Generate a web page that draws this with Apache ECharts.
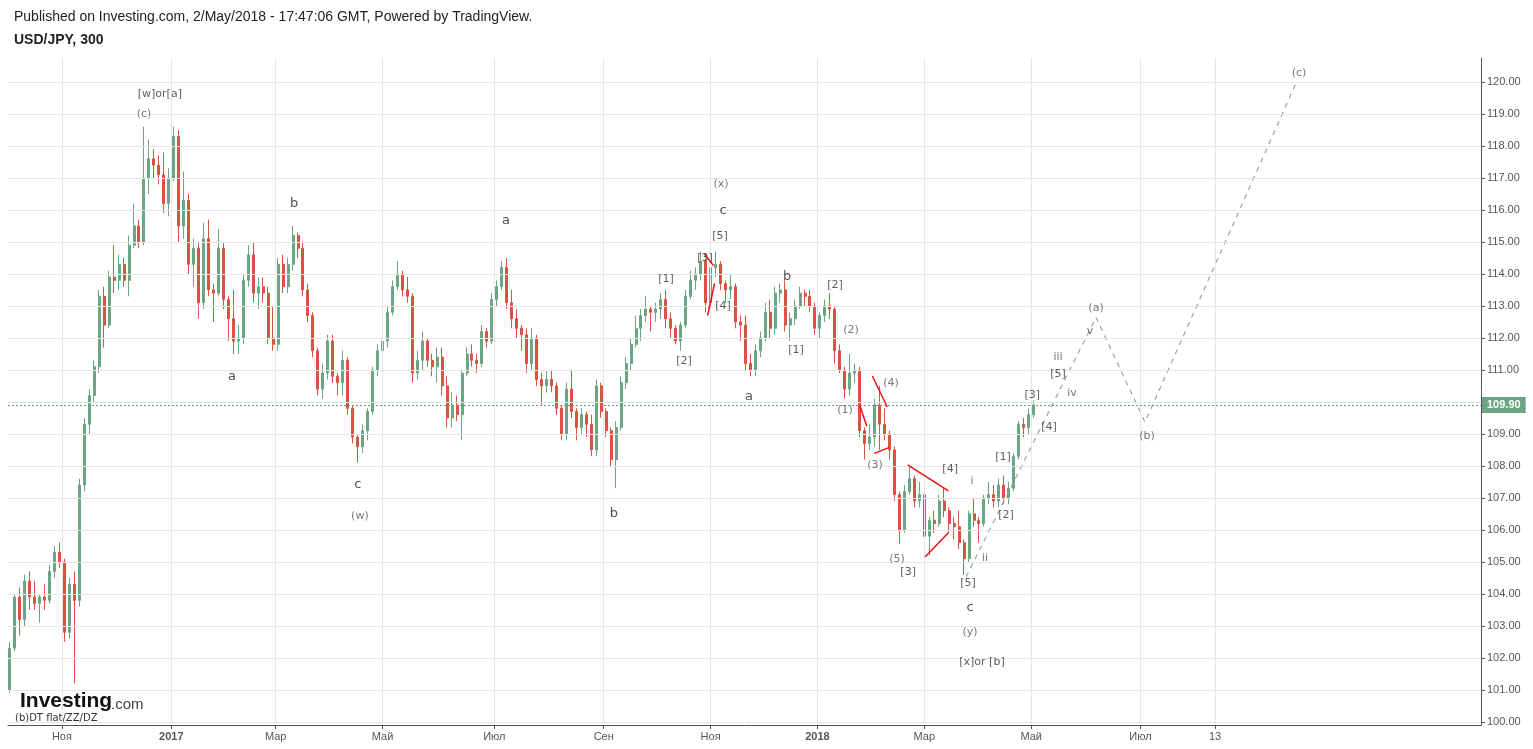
<!DOCTYPE html>
<html><head><meta charset="utf-8">
<script src="https://cdn.jsdelivr.net/npm/echarts@6/dist/echarts.min.js"></script>
<style>html,body{margin:0;padding:0;background:#fff}#c{width:1533px;height:749px}</style>
</head><body><div id="c"></div>
<script>
// x = trading-day index counted from 3 Oct 2016; each candle spans two trading days
// rows: [index, open, close, low, high]
const ohlc2016 = [
[0,101.0,102.3,100.9,102.5],[2,102.3,103.9,102.2,104.0],[4,103.9,103.2,102.7,104.2],[6,103.2,104.4,103.0,104.6],
[8,104.4,103.9,103.5,104.7],[10,103.9,103.7,103.5,104.4],[12,103.7,103.9,103.1,104.0],[14,103.9,103.8,103.5,104.3],
[16,103.8,104.7,103.7,104.9],[18,104.7,105.3,104.5,105.5],[20,105.3,105.0,104.8,105.6],[22,105.0,102.8,102.5,105.1],
[24,102.8,104.3,102.6,104.5],[26,104.3,103.8,101.2,104.7],[28,103.8,107.4,103.6,107.6],[30,107.4,109.3,107.2,109.5],
[32,109.3,110.2,109.0,110.4],[34,110.2,111.1,110.0,111.3],[36,111.1,113.3,110.9,113.5],[38,113.3,112.4,111.7,113.6],
[40,112.4,113.9,112.3,114.1],[42,113.9,113.8,113.4,114.9],[44,113.8,114.3,113.5,114.6],[46,114.3,113.8,113.6,114.5],
[48,113.8,114.9,113.3,115.2],[50,114.9,115.5,114.8,116.2],[52,115.5,115.0,114.8,115.7],[54,115.0,117.0,114.9,118.6],
[56,117.0,117.6,116.5,118.2],[58,117.6,117.4,117.0,117.9],[60,117.4,117.1,116.8,117.7],[62,117.1,116.2,115.9,117.8],
[64,116.2,117.0,115.8,117.3]
];
const ohlc2017a = [
[66,117.0,118.3,116.9,118.6],[68,118.3,115.5,115.0,118.5],[70,115.5,116.3,115.1,117.2],[72,116.3,114.3,114.0,116.5],
[74,114.3,114.8,113.6,115.1],[76,114.8,113.1,112.6,115.0],[78,113.1,115.1,112.9,115.6],[80,115.1,113.5,113.3,115.7],
[82,113.5,113.4,112.5,113.7],[84,113.4,114.8,113.3,115.4],[86,114.8,113.2,112.9,115.0],[88,113.2,112.6,111.9,113.3],
[90,112.6,111.9,111.5,113.5],[92,111.9,112.0,111.5,112.4],[94,112.0,113.8,111.8,114.0],[96,113.8,114.6,113.6,114.9],
[98,114.6,113.4,113.1,115.0],[100,113.4,113.6,112.9,113.9],[102,113.6,113.4,113.1,113.9],[104,113.4,112.0,111.8,113.6],
[106,112.0,111.8,111.6,113.0],[108,111.8,114.3,111.6,114.5],[110,114.3,113.6,113.4,114.6],[112,113.6,114.3,113.4,114.5],
[114,114.3,115.2,114.1,115.5],[116,115.2,114.8,114.5,115.3],[118,114.8,113.5,113.3,115.0],[120,113.5,112.7,112.5,113.7],
[122,112.7,111.6,111.4,112.8],[124,111.6,110.4,110.2,111.7],[126,110.4,110.9,110.1,111.2],[128,110.9,111.9,110.7,112.1],
[130,111.9,110.8,110.6,112.1],[132,110.8,110.6,110.2,110.9],[134,110.6,111.3,110.2,111.6],[136,111.3,109.8,109.6,111.4],
[138,109.8,108.9,108.7,109.9],[140,108.9,108.6,108.1,109.0],[142,108.6,109.1,108.4,109.3],[144,109.1,109.7,108.8,109.8],
[146,109.7,111.0,109.6,111.1],[148,111.0,111.6,110.8,111.8],[150,111.6,111.9,111.3,112.1],[152,111.9,112.8,111.7,113.0],
[154,112.8,113.6,112.7,113.8],[156,113.6,114.0,113.5,114.4],[158,114.0,113.5,113.3,114.1],[160,113.5,113.3,113.1,113.9],
[162,113.3,110.9,110.6,113.4],[164,110.9,111.3,110.7,111.6],[166,111.3,111.9,111.0,112.2],[168,111.9,111.3,111.1,112.0],
[170,111.3,111.1,110.8,111.5],[172,111.1,111.4,110.6,111.7],[174,111.4,110.5,110.2,111.7],[176,110.5,109.5,109.2,110.8],
[178,109.5,109.9,109.2,110.3],[180,109.9,109.6,109.4,110.2],[182,109.6,110.9,108.8,111.0],[184,110.9,111.5,110.8,111.7],
[186,111.5,111.3,111.1,111.8],[188,111.3,111.2,110.9,111.5],[190,111.2,112.2,111.1,112.4],[192,112.2,111.9,111.7,112.3],
[194,111.9,113.2,111.8,113.4]
];
const ohlc2017b = [
[196,113.2,113.6,113.0,113.8],[198,113.6,114.2,113.5,114.4],[200,114.2,113.1,112.9,114.5],[202,113.1,112.6,112.3,113.5],
[204,112.6,112.3,112.0,112.9],[206,112.3,112.1,111.6,112.4],[208,112.1,111.2,110.9,112.3],[210,111.2,112.0,111.0,112.3],
[212,112.0,110.7,110.5,112.1],[214,110.7,110.5,109.9,110.9],[216,110.5,110.7,110.3,111.0],[218,110.7,110.5,110.3,111.0],
[220,110.5,109.8,109.6,110.6],[222,109.8,109.0,108.8,109.9],[224,109.0,110.4,108.8,110.6],[226,110.4,109.7,109.5,111.0],
[228,109.7,109.2,108.8,109.8],[230,109.2,109.6,109.0,109.8],[232,109.6,109.3,108.9,109.7],[234,109.3,108.5,108.3,109.6],
[236,108.5,110.5,108.3,110.7],[238,110.5,109.7,109.5,110.6],[240,109.7,109.1,108.9,109.8],[242,109.1,108.2,108.0,109.2],
[244,108.2,109.2,107.3,109.4],[246,109.2,110.6,109.1,110.8],[248,110.6,111.2,110.4,111.4],[250,111.2,111.8,111.0,112.0],
[252,111.8,112.3,111.7,112.7],[254,112.3,112.7,111.9,112.9],[256,112.7,112.9,112.5,113.3],[258,112.9,112.8,112.2,113.0],
[260,112.8,112.9,112.5,113.1],[262,112.9,113.2,112.6,113.4],[264,113.2,112.6,112.3,113.5],[266,112.6,112.3,112.0,112.8],
[268,112.3,111.9,111.8,112.4],[270,111.9,112.4,111.6,112.5],[272,112.4,113.3,112.3,113.5],[274,113.3,113.8,113.2,114.1],
[276,113.8,114.0,113.5,114.2],[278,114.0,114.4,113.8,114.7],[280,114.4,113.1,112.8,114.5],[282,113.1,114.2,112.9,114.4],
[284,114.2,114.3,113.9,114.7],[286,114.3,113.7,113.5,114.4],[288,113.7,113.5,113.1,113.8],[290,113.5,113.6,113.2,114.0],
[292,113.6,112.5,112.3,113.7],[294,112.5,112.4,111.9,112.7],[296,112.4,111.2,111.0,112.7],[298,111.2,111.0,110.8,111.5],
[300,111.0,111.6,110.8,111.8],[302,111.6,112.0,111.4,112.2],[304,112.0,112.8,111.9,113.1],[306,112.8,112.3,112.0,113.2],
[308,112.3,113.4,112.1,113.6],[310,113.4,113.5,113.1,113.7],[312,113.5,112.4,112.2,113.8],[314,112.4,112.6,111.9,112.8],
[316,112.6,113.0,112.4,113.2],[318,113.0,113.4,112.9,113.6],[320,113.4,113.3,113.0,113.5],[322,113.3,113.0,112.8,113.5],
[324,113.0,112.3,112.1,113.1]
];
const ohlc2018 = [
[326,112.3,112.7,112.0,112.8],[328,112.7,113.0,112.5,113.2],[330,113.0,112.9,112.6,113.4],[332,112.9,111.6,111.2,113.0],
[334,111.6,111.0,110.9,111.8],[336,111.0,110.4,110.1,111.1],[338,110.4,110.9,110.2,111.5],[340,110.9,111.0,110.6,111.2],
[342,111.0,109.1,108.9,111.1],[344,109.1,108.7,108.2,109.2],[346,108.7,108.9,108.5,109.3],[348,108.9,109.9,108.6,110.1],
[350,109.9,109.3,108.5,110.5],[352,109.3,109.0,108.8,109.8],[354,109.0,108.5,108.2,109.1],[356,108.5,107.1,106.9,108.6],
[358,107.1,106.0,105.55,107.2],[360,106.0,107.2,105.9,107.4],[362,107.2,107.6,107.1,108.0],[364,107.6,106.9,106.7,107.7],
[366,106.9,107.1,106.7,107.5],[368,107.1,105.8,105.6,107.2],[370,105.8,106.3,105.2,106.4],[372,106.3,106.2,105.9,106.6],
[374,106.2,106.9,106.1,107.1],[376,106.9,106.6,106.4,107.3],[378,106.6,106.2,105.9,106.7],[380,106.2,106.1,105.7,106.4],
[382,106.1,105.6,105.4,106.6],[384,105.6,105.1,104.6,105.7],[386,105.1,106.5,105.0,106.6],[388,106.5,106.3,106.1,107.0],
[390,106.3,106.2,105.6,106.4],[392,106.2,107.0,106.1,107.1],[394,107.0,107.1,106.8,107.5],[396,107.1,106.9,106.7,107.4],
[398,106.9,107.4,106.7,107.6],[400,107.4,107.0,106.8,107.7],[402,107.0,107.3,106.8,107.5],[404,107.3,108.3,107.2,108.4],
[406,108.3,109.3,108.2,109.4],[408,109.3,109.2,108.9,109.5],[410,109.2,109.6,109.0,109.8],[412,109.6,109.9,109.5,110.05]
];
const lastPrice = 109.90;

// time axis ticks (trading-day index) and their labels
const xTickIdx = [21, 65, 107, 150, 195, 239, 282, 325, 368, 411, 455, 485];
const xTickLabels = ['Ноя', '2017', 'Мар', 'Май', 'Июл', 'Сен', 'Ноя', '2018', 'Мар', 'Май', 'Июл', '13'];
const yTicks = [100,101,102,103,104,105,106,107,108,109,110,111,112,113,114,115,116,117,118,119,120];

// wave annotations: [index, price, text]
const letterLabels = [
  [89.4,110.8,'a'],[114.4,116.2,'b'],[140.1,107.4,'c'],
  [199.7,115.67,'a'],[243.1,106.5,'b'],[287.0,115.98,'c'],
  [297.5,110.18,'a'],[312.8,113.92,'b'],[386.4,103.57,'c']
];
const bracketLabels = [
  [60.4,119.63,'[w]or[a]'],[264.1,113.83,'[1]'],[271.3,111.27,'[2]'],[279.8,114.5,'[3]'],[287.0,112.98,'[4]'],[285.8,115.17,'[5]'],
  [316.4,111.61,'[1]'],[332.1,113.64,'[2]'],[361.5,104.69,'[3]'],[378.4,107.9,'[4]'],[385.6,104.35,'[5]'],
  [391.2,101.88,'[x]or [b]'],[399.7,108.28,'[1]'],[400.9,106.47,'[2]'],[411.4,110.21,'[3]'],[418.2,109.21,'[4]'],[421.8,110.86,'[5]']
];
const parenLabels = [
  [54.0,119.0,'(c)'],[140.9,106.44,'(w)'],[286.2,116.82,'(x)'],
  [336.1,109.74,'(1)'],[338.5,112.24,'(2)'],[348.2,108.03,'(3)'],[354.6,110.58,'(4)'],[357.0,105.1,'(5)'],
  [386.4,102.79,'(y)'],[437.1,112.92,'(a)'],[457.6,108.93,'(b)'],[518.8,120.28,'(c)']
];
const romanLabels = [
  [387.2,107.53,'i'],[392.4,105.13,'ii'],[421.8,111.39,'iii'],[427.4,110.27,'iv'],[434.7,112.2,'v']
];

// projected path (dashed)
const projIdx = [384.8, 437.1, 456.8, 517.6];
const projPrice = [104.53, 112.64, 109.37, 119.97];

// red trend-line segments: [[idx, price], [idx, price]]
const redSegments = [
  [[279.5,114.63],[283.2,114.26]],
  [[280.8,112.7],[283.6,113.7]],
  [[342.1,109.88],[344.8,109.25]],
  [[347.1,110.81],[353.1,109.84]],
  [[347.9,108.39],[353.9,108.58]],
  [[361.3,108.03],[377.7,107.22]],
  [[368.3,105.15],[377.7,105.91]]
];

const candles = ohlc2016.concat(ohlc2017a, ohlc2017b, ohlc2018);
const UP = '#6ba583', DOWN = '#d75442';
const AX = '#555';

function labelSeries(arr, color, size) {
  return {
    type: 'scatter', symbolSize: 1, silent: true, z: 6,
    itemStyle: {color: 'rgba(0,0,0,0)'},
    label: {show: true, position: 'inside', formatter: '{b}', color: color, fontSize: size, fontFamily: 'DejaVu Sans'},
    data: arr.map(d => ({value: [d[0], d[1]], name: d[2]}))
  };
}

const series = [
  {
    type: 'line', data: [], silent: true, z: 0,
    markLine: {
      silent: true, symbol: ['none','none'], animation: false,
      label: {show: false},
      lineStyle: {color: '#e6e6e6', width: 1, type: 'solid'},
      data: xTickIdx.map(v => ({xAxis: v})).concat(yTicks.map(v => ({yAxis: v})))
    }
  },
  {
    type: 'candlestick', z: 3, barWidth: 2.5, silent: true,
    itemStyle: {color: UP, color0: DOWN, borderColor: UP, borderColor0: DOWN, borderWidth: 1},
    data: candles,
    markLine: {
      silent: true, symbol: ['none','none'], animation: false,
      lineStyle: {color: '#5f9a79', width: 1, type: [2, 2]},
      label: {show: true, position: 'end', distance: 1, formatter: lastPrice.toFixed(2),
        backgroundColor: '#6ba583', color: '#fff', fontWeight: 'bold', fontSize: 11,
        fontFamily: 'Liberation Sans', padding: [3, 5, 2, 5]},
      data: [{yAxis: lastPrice}]
    }
  },
  {
    type: 'line', z: 4, silent: true, showSymbol: false,
    lineStyle: {color: '#a0a0a0', width: 1.2, type: [5, 5]},
    data: projIdx.map((x, i) => [x, projPrice[i]])
  }
];
redSegments.forEach(seg => series.push({
  type: 'line', z: 5, silent: true, showSymbol: false,
  lineStyle: {color: '#f01010', width: 1.5}, data: seg
}));
series.push(labelSeries(letterLabels, '#222', 13));
series.push(labelSeries(bracketLabels, '#333', 11));
series.push(labelSeries(parenLabels, '#555', 11));
series.push(labelSeries(romanLabels, '#555', 11));

const chart = echarts.init(document.getElementById('c'));
chart.setOption({
  animation: false,
  backgroundColor: '#fff',
  grid: {left: 8, right: 52, top: 58, bottom: 24},
  xAxis: {
    type: 'value', min: -0.7, max: 592,
    axisLine: {show: true, onZero: false, lineStyle: {color: AX, width: 1}},
    axisTick: {show: true, customValues: xTickIdx, length: 4, lineStyle: {color: AX}},
    axisLabel: {
      customValues: xTickIdx, color: AX, fontSize: 11, fontFamily: 'Liberation Sans', margin: 6,
      formatter: v => {
        const t = xTickLabels[xTickIdx.indexOf(v)];
        return /^\d{4}$/.test(t) ? '{b|' + t + '}' : t;
      },
      rich: {b: {fontWeight: 'bold', color: AX, fontSize: 11, fontFamily: 'Liberation Sans'}}
    },
    splitLine: {show: false}
  },
  yAxis: {
    type: 'value', position: 'right', min: 99.9, max: 120.75, scale: true,
    axisLine: {show: true, onZero: false, lineStyle: {color: AX, width: 1}},
    axisTick: {show: true, customValues: yTicks, length: 4, lineStyle: {color: AX}},
    axisLabel: {customValues: yTicks, color: AX, fontSize: 11, fontFamily: 'Liberation Sans', margin: 6,
      formatter: v => v.toFixed(2)},
    splitLine: {show: false}
  },
  graphic: [
    {type: 'text', left: 14, top: 10, style: {text: 'Published on Investing.com, 2/May/2018 - 17:47:06 GMT, Powered by TradingView.', fill: '#222', font: '14px "Liberation Sans"'}},
    {type: 'text', left: 14, top: 33, style: {text: 'USD/JPY, 300', fill: '#222', font: 'bold 14px "Liberation Sans"'}},
    {type: 'text', left: 20, top: 691, style: {text: 'Investing', fill: '#111', font: 'bold 21px "Liberation Sans"'}},
    {type: 'text', left: 111, top: 697, style: {text: '.com', fill: '#444', font: '15px "Liberation Sans"'}},
    {type: 'text', left: 15, top: 713, style: {text: '(b)DT flat/ZZ/DZ', fill: '#333', font: '10px "DejaVu Sans"'}}
  ],
  series: series
});
</script>
</body></html>
